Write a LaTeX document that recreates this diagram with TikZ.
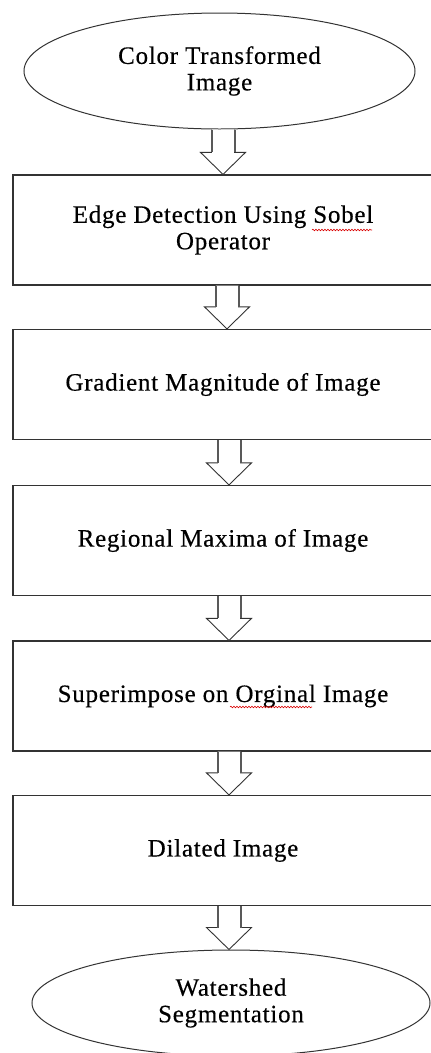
\documentclass[tikz,border=0pt]{standalone}
\usepackage{fontspec}
\setmainfont{Liberation Serif}[LetterSpace=3,FakeBold=0.4]
\usetikzlibrary{shapes.geometric,calc,decorations.pathmorphing}

\newcommand{\flowarrow}[3]{%
  \draw[blockarrow] let \p1=(#1.south), \p2=(#2.north), \n1={\x2+(#3pt)} in
    (\n1-11.5pt,\y1) -- (\n1-11.5pt,\y2+22pt) -- (\n1-22.5pt,\y2+22pt) -- (\n1,\y2)
    -- (\n1+22.5pt,\y2+22pt) -- (\n1+11.5pt,\y2+22pt) -- (\n1+11.5pt,\y1);
  \draw[arrowshaft] let \p1=(#1.south), \p2=(#2.north), \n1={\x2+(#3pt)} in
    (\n1-11.5pt,\y1) -- (\n1-11.5pt,\y2+22pt)
    (\n1+11.5pt,\y1) -- (\n1+11.5pt,\y2+22pt);
}

\begin{document}
\begin{tikzpicture}[x=1pt,y=-1pt,
  lbl/.style={font=\fontsize{25}{26.5}\selectfont, align=center, text=black},
  procbox/.style={lbl, draw=black!80, line width=1.2pt, rectangle,
    minimum width=420pt, minimum height=110pt, inner sep=0pt},
  terminal/.style={lbl, draw=black!80, line width=1pt, ellipse, inner sep=0pt},
  blockarrow/.style={draw=black!80, line width=0.9pt, fill=white, line join=miter},
  arrowshaft/.style={draw=black!65, line width=2pt},
  squiggle/.style={draw=red!85!black, line width=0.6pt, decorate,
    decoration={snake, amplitude=0.8pt, segment length=3pt}}
]
\useasboundingbox (0,0) rectangle (431,1053);
\clip (0,0) rectangle (431,1053);

\node[terminal, minimum width=391pt, minimum height=116pt] (start) at (219.5,71) {Color Transformed\\Image};
\node[procbox] (sobel) at (223,230) {Edge Detection Using Sobel\\Operator};
\node[procbox] (grad) at (223,384.5) {Gradient Magnitude of Image};
\node[procbox] (regmax) at (223,540.5) {Regional Maxima of Image};
\node[procbox] (superimp) at (223,696) {Superimpose on Orginal Image};
\node[procbox] (dilate) at (223,850.5) {Dilated Image};
\node[terminal, minimum width=398pt, minimum height=106pt] (finish) at (231,1003) {Watershed\\Segmentation};

\flowarrow{start}{sobel}{0}
\flowarrow{sobel}{grad}{4}
\flowarrow{grad}{regmax}{6}
\flowarrow{regmax}{superimp}{6}
\flowarrow{superimp}{dilate}{6}
\flowarrow{dilate}{finish}{-2}

\draw[squiggle] (312,230) -- (372,230);
\draw[squiggle] (230,707) -- (312,707);
\end{tikzpicture}
\end{document}
